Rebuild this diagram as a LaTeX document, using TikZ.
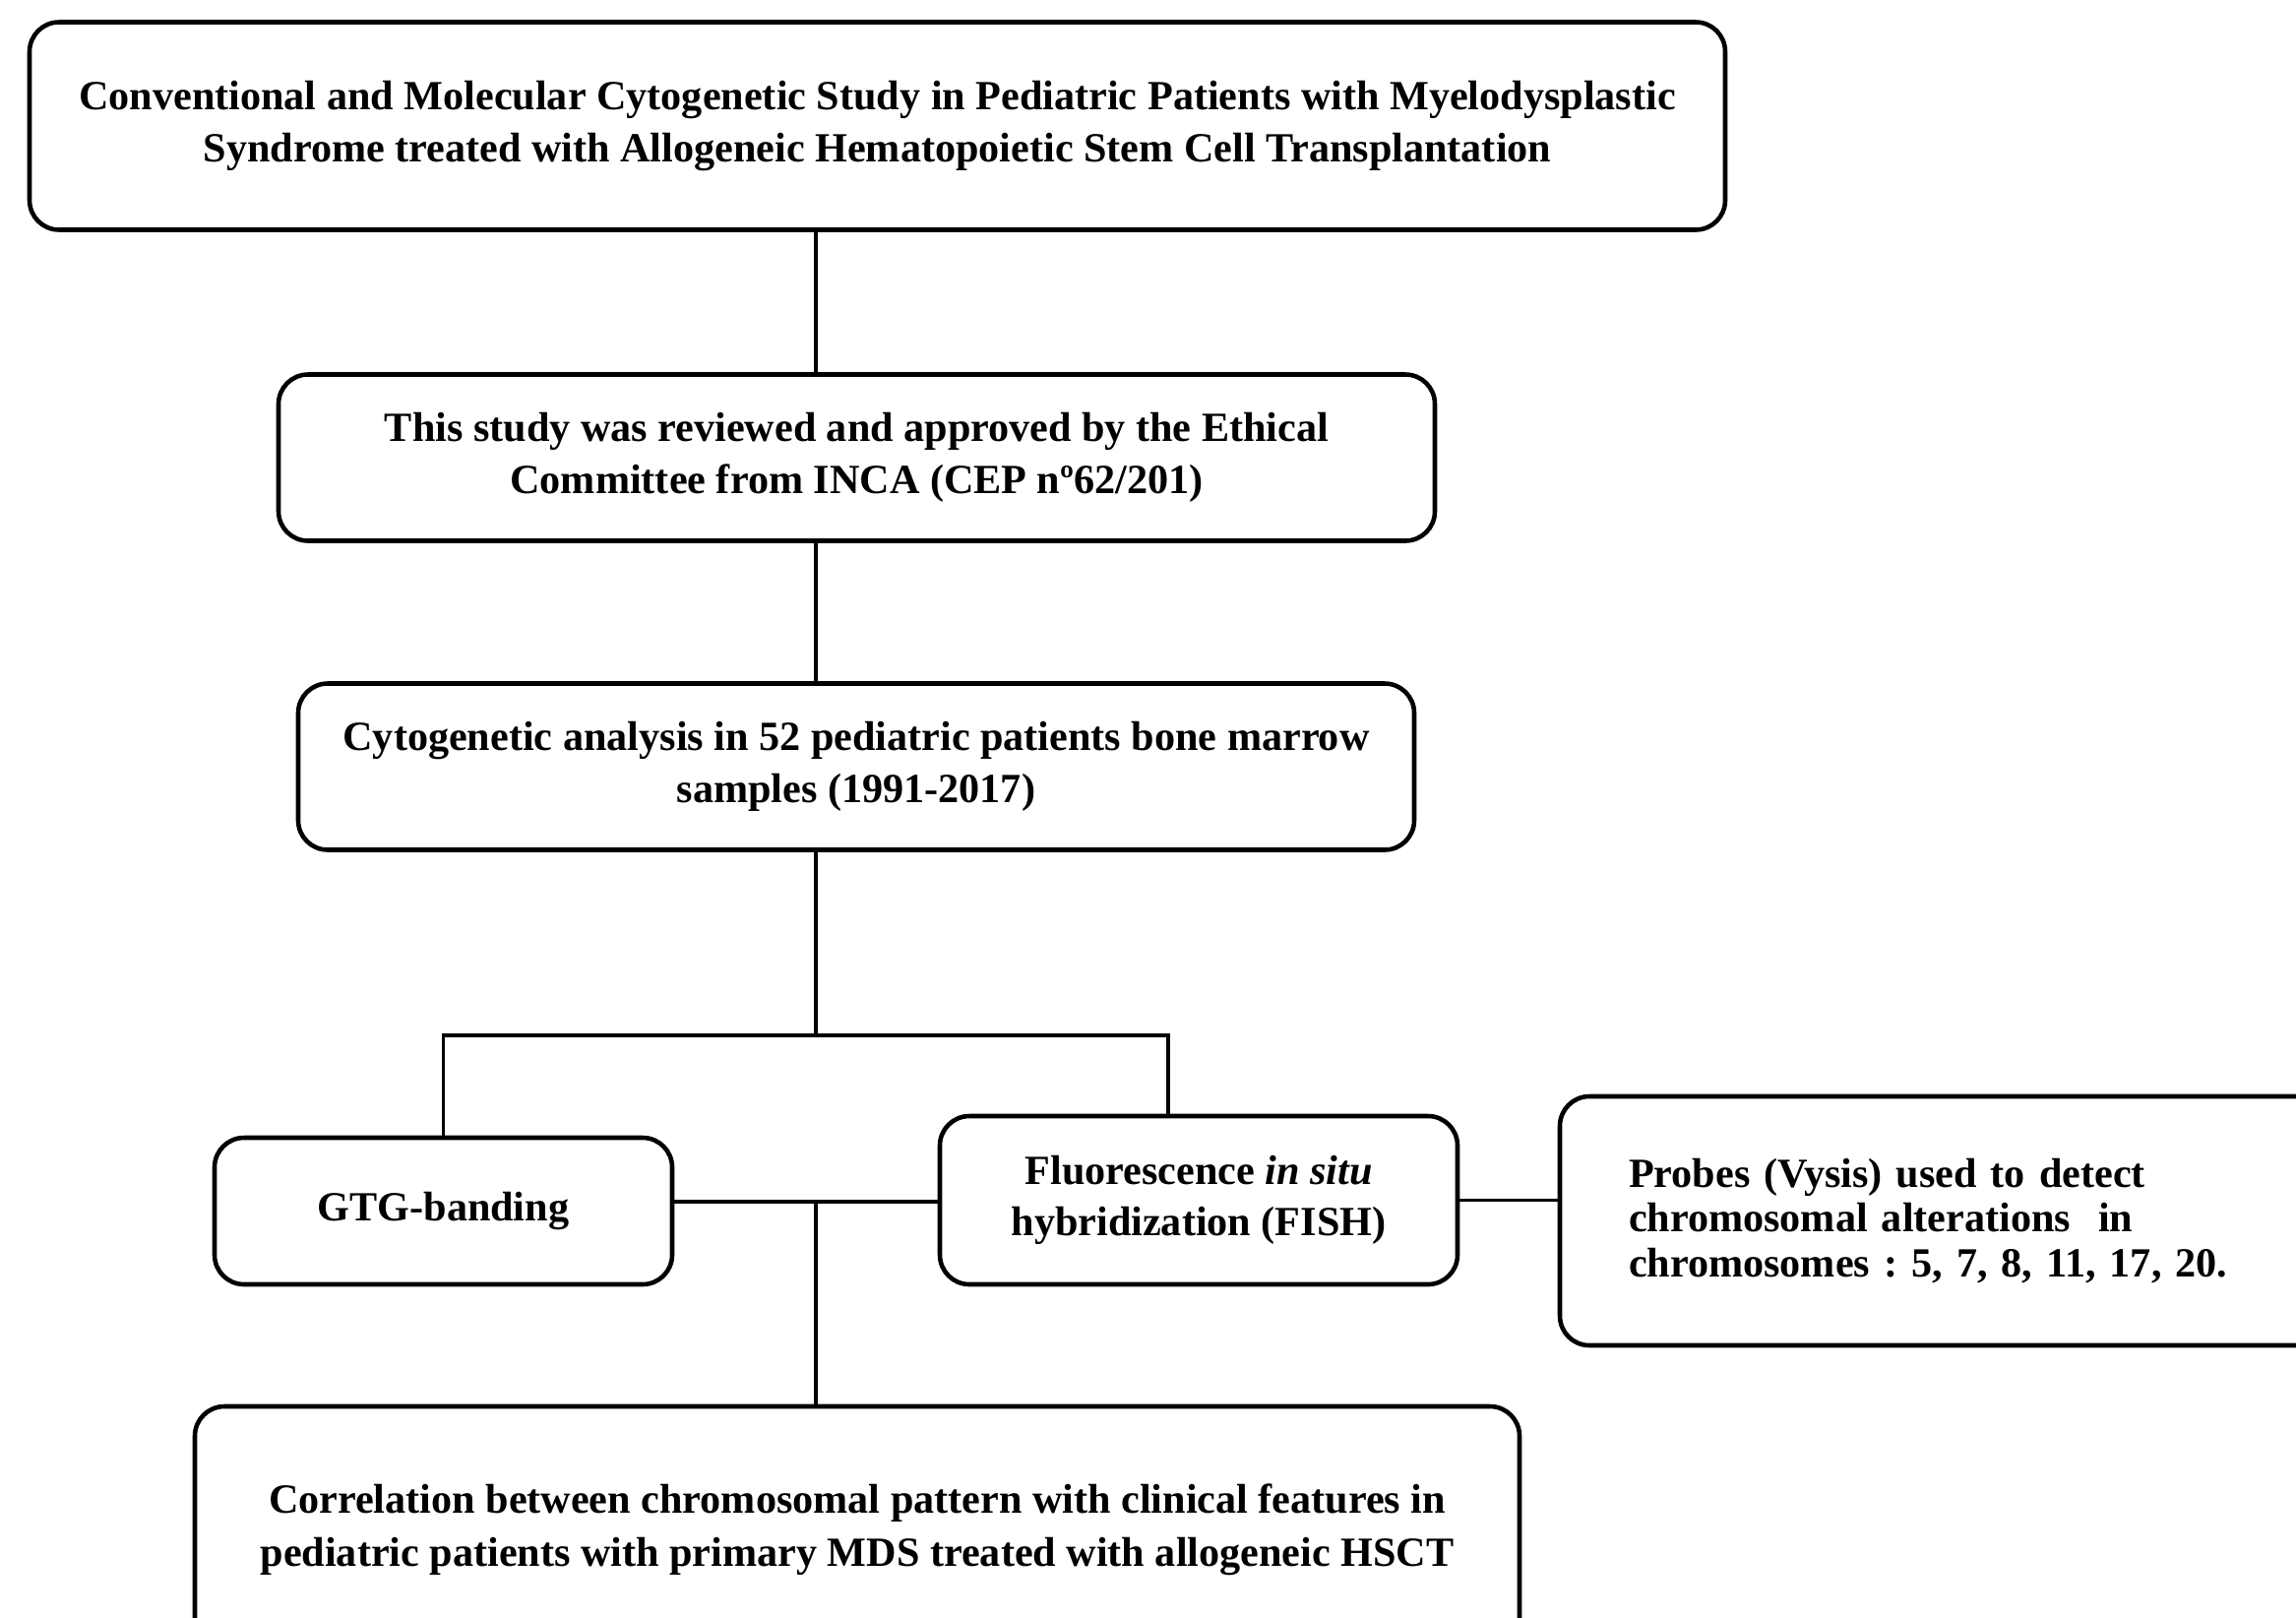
\documentclass[tikz,border=0pt]{standalone}
\usepackage{fontspec}
\setmainfont{Liberation Serif}
\usetikzlibrary{positioning}

\begin{document}
\frenchspacing
\begin{tikzpicture}[x=0.1mm,y=-0.1mm]
\tikzstyle {box}=[rectangle, rounded corners=3mm, draw=black, line width=1.3pt, align=center, font=\fontsize{12}{15}\selectfont\bfseries, inner sep=0pt]
\tikzstyle {link}=[draw=black, line width=0.9pt]
\useasboundingbox (0,0) rectangle (2333,1643);
\node (top) [box, minimum width=172.3mm, minimum height=21.1mm] at (891.5,128) {Conventional and Molecular Cytogenetic Study in Pediatric Patients with Myelodysplastic\\Syndrome treated with Allogeneic Hematopoietic Stem Cell Transplantation};
\node (study) [box, minimum width=117.5mm, minimum height=16.9mm] at (870.5,465) {This study was reviewed and approved by the Ethical\\Committee from INCA (CEP nº62/201)};
\node (analysis) [box, minimum width=113.4mm, minimum height=16.9mm] at (870,779) {Cytogenetic analysis in 52 pediatric patients bone marrow\\samples (1991-2017)};
\node (gtg) [box, minimum width=46.5mm, minimum height=14.9mm] at (450.5,1230.5) {GTG-banding};
\node (fish) [box, minimum width=52.6mm, minimum height=17.1mm] at (1218,1219.5) {Fluorescence \textit{in situ}\\hybridization (FISH)};
\node (probes) [box, align=left, text width=66mm, inner xsep=7mm, minimum height=25.3mm, font=\fontsize{12}{13}\selectfont\bfseries] at (1985,1240.5) {Probes (Vysis) used to detect\\chromosomal alterations~ in\\chromosomes : 5, 7, 8, 11, 17, 20.};
\node (result) [box, minimum width=134.6mm, minimum height=25.1mm, font=\fontsize{12}{15.5}\selectfont\bfseries] at (871,1554.5) {Correlation between chromosomal pattern with clinical features in\\pediatric patients with primary MDS treated with allogeneic HSCT};
\coordinate (spine) at (829,0);
\coordinate (split) at (829,1052);
\coordinate (fishin) at (1187,1052);
\coordinate (join) at (829,1221);
\draw [link] (top.south -| spine) -- (study.north -| spine);
\draw [link] (study.south -| spine) -- (analysis.north -| spine);
\draw [link] (analysis.south -| spine) -- (split);
\draw [link] (gtg.north) |- (fishin) -- (fishin |- fish.north);
\draw [link] (join -| gtg.east) -- (join -| fish.west);
\draw [link] (join) -- (join |- result.north);
\draw [link] (fish.east) -- (fish.east -| probes.west);
\end{tikzpicture}
\end{document}
